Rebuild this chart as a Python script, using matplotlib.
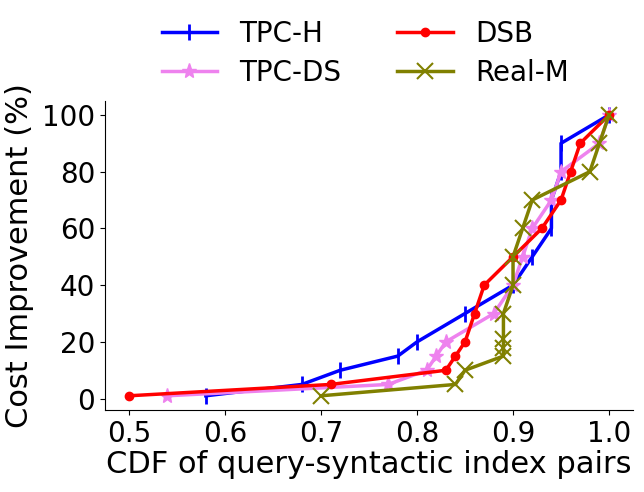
import matplotlib
matplotlib.use('Agg')
import matplotlib.pyplot as plt

# CDF values
tpch_x = [0.58, 0.68, 0.72, 0.78, 0.80, 0.85, 0.90, 0.92, 0.94, 0.94, 0.95, 0.95, 1.0]
tpch_y = [1, 5, 10, 15, 20, 30, 40, 50, 60, 70, 80, 90, 100]

tpcds_x = [0.54, 0.77, 0.81, 0.82, 0.83, 0.88, 0.90, 0.91, 0.92, 0.94, 0.95, 0.99, 1.0]
tpcds_y = [1, 5, 10, 15, 20, 30, 40, 50, 60, 70, 80, 90, 100]

dsb_x = [0.50, 0.71, 0.83, 0.84, 0.85, 0.86, 0.87, 0.90, 0.93, 0.95, 0.96, 0.97, 1.0]
dsb_y = [1, 5, 10, 15, 20, 30, 40, 50, 60, 70, 80, 90, 100]

realm_x = [0.70, 0.84, 0.85, 0.89, 0.89, 0.89, 0.89, 0.90, 0.90, 0.91, 0.92, 0.98, 0.99, 1.0]
realm_y = [1, 5, 10, 15, 18, 21, 30, 40, 50, 60, 70, 80, 90, 100]

plt.rcParams['font.size'] = 20

fig = plt.figure(figsize=(6.44, 4.92), dpi=100)
ax = fig.add_subplot(111)
fig.subplots_adjust(left=0.163, right=0.983, bottom=0.167, top=0.795)

ax.plot(tpch_x, tpch_y, marker='|', markersize=11, markeredgewidth=2, linewidth=2.5, color='blue', label='TPC-H')
ax.plot(tpcds_x, tpcds_y, marker='*', markersize=11, linewidth=2.5, color='violet', label='TPC-DS')
ax.plot(dsb_x, dsb_y, marker='o', markersize=6, linewidth=2.5, color='red', label='DSB')
ax.plot(realm_x, realm_y, marker='x', markersize=11, markeredgewidth=1.5, linewidth=2.5, color='olive', label='Real-M')

ax.set_xlabel('CDF of query-syntactic index pairs', fontsize=22, labelpad=2)
ax.set_ylabel('Cost Improvement (%)', fontsize=22, labelpad=6)
ax.set_xticks([0.5, 0.6, 0.7, 0.8, 0.9, 1.0])
ax.set_yticks([0, 20, 40, 60, 80, 100])
ax.spines['top'].set_visible(False)
ax.spines['right'].set_visible(False)

fig.legend(loc='upper center', bbox_to_anchor=(0.567, 1.01), ncol=2, frameon=False,
           labelspacing=0.4)

fig.savefig('out.png', dpi=100)
